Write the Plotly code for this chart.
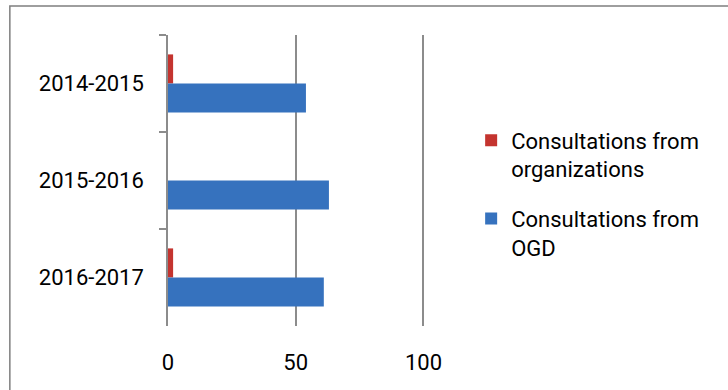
import plotly.graph_objects as go

categories = ["2014-2015", "2015-2016", "2016-2017"]
org_values = [2, 0, 2]
ogd_values = [54, 63, 61]
series_names = ["Consultations from<br>organizations", "Consultations from<br>OGD"]
x_ticks = [0, 50, 100]

FONT = "Roboto"
fig = go.Figure()
fig.add_trace(go.Bar(y=categories, x=org_values, orientation="h", name=series_names[0],
                     legendgroup="g1",
                     marker=dict(color="#C4342F", line=dict(width=0))))
fig.add_trace(go.Bar(y=categories, x=ogd_values, orientation="h", name=series_names[1],
                     legendgroup="g2",
                     marker=dict(color="#3672BE", line=dict(width=0))))

fig.update_layout(
    width=728, height=390,
    margin=dict(l=168, r=302, t=35, b=64),
    paper_bgcolor="white", plot_bgcolor="white",
    barmode="group", bargap=0.4, bargroupgap=0,
    font=dict(family=FONT, size=22, color="black"),
    showlegend=True,
    legend=dict(x=1.175, y=0.71, xanchor="left", yanchor="top", valign="top",
                font=dict(family=FONT, size=22), tracegroupgap=18,
                bgcolor="rgba(0,0,0,0)"),
    xaxis=dict(range=[0, 101], tickvals=x_ticks, showgrid=True, gridcolor="#8C8C8C",
               gridwidth=1.5, zeroline=False, showline=False, ticks="", ticklabelstandoff=21,
               fixedrange=True),
    yaxis=dict(categoryorder="array", categoryarray=categories, autorange="reversed",
               showline=True, linecolor="#8C8C8C", linewidth=1.5, ticks="outside",
               tickson="boundaries", ticklen=7, tickcolor="#8C8C8C", tickwidth=1.5,
               showgrid=False, ticklabelstandoff=18),
    shapes=[dict(type="path", xref="paper", yref="paper",
                 path="M -0.613 -0.5 L -0.613 1.1 L 2.4 1.1",
                 line=dict(color="#7F7F7F", width=1.5), fillcolor="rgba(0,0,0,0)", layer="below")],
)
fig.write_html("out.html")
